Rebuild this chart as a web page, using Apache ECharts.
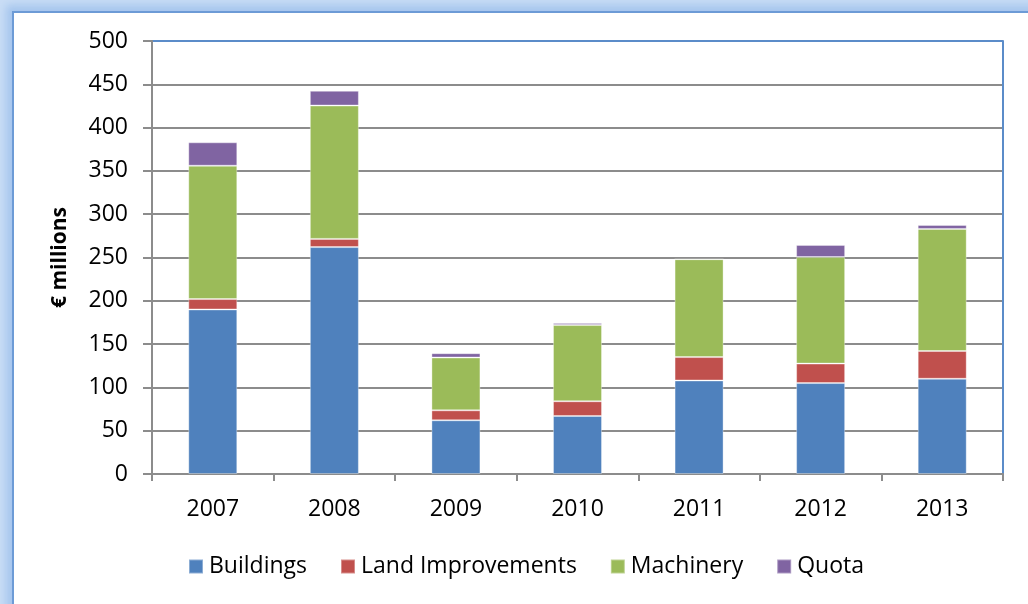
<!DOCTYPE HTML>
<html>
<head>
	<meta charset="utf-8">
	<title>€ millions</title>
	<script src="https://cdn.jsdelivr.net/npm/echarts@6/dist/echarts.min.js"></script>
	<style>
		html, body { margin: 0; padding: 0; background: #c9ddf5; overflow: hidden; }
		#frame {
			position: absolute; left: 12px; top: 11px; width: 1040px; height: 620px;
			background: #fff; border-left: 2px solid #6d9bd6; border-top: 2px solid #6d9bd6;
			box-shadow: -4px -4px 8px 2px #a6c6ee;
		}
		#main { position: absolute; left: 0; top: 0; width: 1028px; height: 604px; }
	</style>
</head>
<body>
	<div id="frame"></div>
	<div id="main"></div>
	<script type="text/javascript">
		var years = ['2007', '2008', '2009', '2010', '2011', '2012', '2013'];
		var buildings = [190, 262, 62, 67, 108, 105, 110];
		var landImprovements = [12, 9.5, 11.5, 17, 27, 22.5, 32];
		var machinery = [154, 154, 61, 88, 113, 123, 141];
		var quota = [27, 17, 5, 2.5, 0, 14, 4.5];
		var seriesNames = ['Buildings', 'Land Improvements', 'Machinery', 'Quota'];
		var colors = ['#4f81bd', '#c0504d', '#9bbb59', '#8064a2'];

		var font = 'Open Sans';
		// gridline colours, the top one (500) is the blue plot border
		var splitColors = [];
		for (var i = 0; i < 10; i++) {
			splitColors.push('#8c8c8c');
		}
		splitColors.push('#5b8cc9');

		function bar(name, data, idx) {
			return {
				name: name,
				type: 'bar',
				stack: 'total',
				barWidth: 49,
				data: data,
				itemStyle: { color: colors[idx], borderColor: 'rgba(255,255,255,0.35)', borderWidth: 1 }
			};
		}

		var myChart = echarts.init(document.getElementById('main'), null, { renderer: 'canvas' });
		var option = {
			animation: false,
			color: colors,
			grid: { left: 152, right: 25, top: 41, bottom: 130, containLabel: false },
			legend: {
				data: seriesNames,
				left: 183,
				top: 550,
				itemWidth: 14,
				itemHeight: 14,
				itemGap: 33,
				icon: 'rect',
				textStyle: { fontFamily: font, fontSize: 23, color: '#000', padding: [0, 0, 0, 1] }
			},
			xAxis: {
				type: 'category',
				data: years,
				axisLine: { lineStyle: { color: '#8c8c8c', width: 2 } },
				axisTick: { show: true, length: 7, lineStyle: { color: '#8c8c8c', width: 2 } },
				axisLabel: { fontFamily: font, fontSize: 23, color: '#000', margin: 24 }
			},
			yAxis: [{
				type: 'value',
				min: 0,
				max: 500,
				interval: 50,
				name: '€ millions',
				nameLocation: 'middle',
				nameGap: 81,
				nameRotate: 90,
				nameTextStyle: { fontFamily: font, fontSize: 21, fontWeight: 'bold', color: '#000' },
				axisLine: { show: true, lineStyle: { color: '#8c8c8c', width: 2 } },
				axisTick: { show: true, length: 9, lineStyle: { color: '#8c8c8c', width: 2 } },
				axisLabel: { fontFamily: font, fontSize: 23, color: '#000', margin: 24 },
				splitLine: { show: true, lineStyle: { color: splitColors, width: 2 } }
			}, {
				type: 'value',
				position: 'right',
				min: 0,
				max: 500,
				interval: 50,
				axisLine: { show: true, lineStyle: { color: '#5b8cc9', width: 2 } },
				axisTick: { show: false },
				axisLabel: { show: false },
				splitLine: { show: false }
			}],
			series: [
				bar(seriesNames[0], buildings, 0),
				bar(seriesNames[1], landImprovements, 1),
				bar(seriesNames[2], machinery, 2),
				bar(seriesNames[3], quota, 3)
			]
		};
		myChart.setOption(option);
	</script>
</body>
</html>
